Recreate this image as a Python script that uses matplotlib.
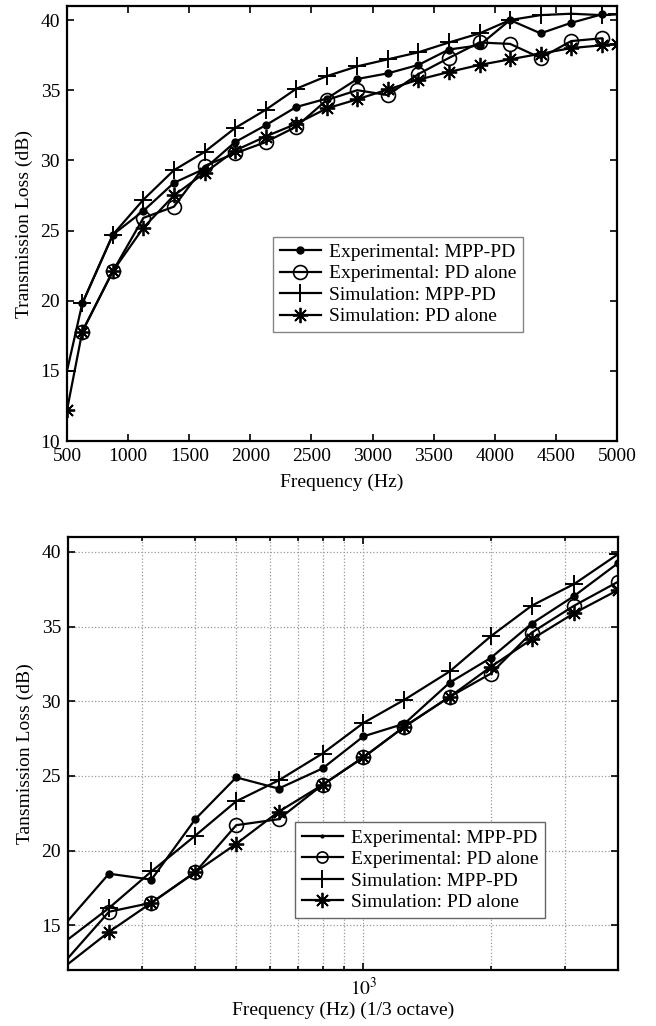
import matplotlib
matplotlib.use("Agg")
import matplotlib.pyplot as plt
from matplotlib.ticker import FixedLocator, NullFormatter
from matplotlib.lines import Line2D

plt.rcParams['font.family'] = ['Liberation Serif', 'DejaVu Serif']
plt.rcParams['mathtext.fontset'] = 'stix'

# ---------------- top chart data (linear frequency) ----------------
freq_exp = [625, 875, 1125, 1375, 1625, 1875, 2125, 2375, 2625, 2875,
            3125, 3375, 3625, 3875, 4125, 4375, 4625, 4875]
exp_mpp = [19.8, 24.7, 26.4, 28.4, 29.4, 31.3, 32.5, 33.8, 34.4, 35.8,
           36.2, 36.8, 37.9, 38.2, 40.0, 39.05, 39.8, 40.4]
exp_pd = [17.8, 22.1, 25.9, 26.7, 29.6, 30.5, 31.3, 32.4, 34.3, 35.0,
          34.65, 36.15, 37.3, 38.4, 38.3, 37.3, 38.5, 38.7]
freq_sim = [500, 625, 875, 1125, 1375, 1625, 1875, 2125, 2375, 2625, 2875,
            3125, 3375, 3625, 3875, 4125, 4375, 4625, 4875, 5000]
sim_mpp = [15.0, 19.8, 24.7, 27.2, 29.3, 30.6, 32.3, 33.6, 35.1, 36.0, 36.7,
           37.2, 37.7, 38.4, 39.05, 40.0, 40.35, 40.45, 40.35, 40.4]
sim_pd = [12.2, 17.8, 22.1, 25.2, 27.5, 29.1, 30.7, 31.7, 32.6, 33.7, 34.35,
          35.05, 35.75, 36.3, 36.8, 37.2, 37.6, 38.0, 38.2, 38.3]

# ---------------- bottom chart data (1/3 octave) ----------------
freq_oct = [200, 250, 315, 400, 500, 630, 800, 1000, 1250, 1600, 2000, 2500, 3150, 4000]
exp_mpp_b = [15.3, 18.45, 18.05, 22.1, 24.9, 24.15, 25.5, 27.65, 28.5, 31.25, 32.9, 35.2, 37.05, 39.25]
exp_pd_b = [12.8, 15.9, 16.5, 18.55, 21.7, 22.1, 24.4, 26.25, 28.3, 30.3, 31.85, 34.6, 36.4, 38.0]
sim_mpp_b = [14.05, 16.15, 18.6, 21.0, 23.3, 24.7, 26.5, 28.55, 30.1, 32.0, 34.35, 36.4, 37.85, 39.85]
sim_pd_b = [12.4, 14.55, 16.5, 18.55, 20.45, 22.6, 24.4, 26.25, 28.3, 30.3, 32.3, 34.15, 35.9, 37.45]

labels = ["Experimental: MPP-PD", "Experimental: PD alone",
          "Simulation: MPP-PD", "Simulation: PD alone"]

FS = 14
LW = 1.6
ASTER = (8, 2, 0)
styles = [
    dict(marker='.', markersize=10),
    dict(marker='o', markersize=10, markerfacecolor='none', markeredgewidth=1.2),
    dict(marker='+', markersize=13, markeredgewidth=1.4),
    dict(marker=ASTER, markersize=11, markeredgewidth=1.3),
]

fig = plt.figure(figsize=(6.56, 10.26), dpi=100)

# ---------------- top axes ----------------
ax1 = fig.add_axes([67/656, 1 - 441/1026, 550/656, 435/1026])
series_top = [(freq_exp, exp_mpp), (freq_exp, exp_pd), (freq_sim, sim_mpp), (freq_sim, sim_pd)]
for (fx, fy), st, lab in zip(series_top, styles, labels):
    ax1.plot(fx, fy, color='black', linewidth=LW, label=lab, **st)
ax1.set_xlim(500, 5000)
ax1.set_ylim(10, 41)
ax1.set_xticks([500, 1000, 1500, 2000, 2500, 3000, 3500, 4000, 4500, 5000])
ax1.set_yticks([10, 15, 20, 25, 30, 35, 40])
ax1.set_xlabel("Frequency (Hz)", fontsize=FS, labelpad=6)
ax1.set_ylabel("Transmission Loss (dB)", fontsize=FS, labelpad=5)
leg1 = ax1.legend(loc='lower left', bbox_to_anchor=(0.375, 0.25), fontsize=FS,
                  frameon=True, fancybox=False, edgecolor='#666666', handlelength=2.1,
                  handletextpad=0.4, borderpad=0.35, labelspacing=0.2, borderaxespad=0)
leg1.get_frame().set_linewidth(1.0)

# ---------------- bottom axes ----------------
ax2 = fig.add_axes([68/656, 1 - 970/1026, 550/656, 433/1026])
series_bot = [(freq_oct, exp_mpp_b), (freq_oct, exp_pd_b), (freq_oct, sim_mpp_b), (freq_oct, sim_pd_b)]
leg_styles = [dict(marker='.', markersize=4),
              dict(marker='o', markersize=8, markerfacecolor='none', markeredgewidth=1.2),
              dict(marker='+', markersize=13, markeredgewidth=1.4),
              dict(marker=ASTER, markersize=11, markeredgewidth=1.3)]
for (fx, fy), st, lab in zip(series_bot, styles, labels):
    ax2.plot(fx, fy, color='black', linewidth=LW, markevery=slice(1, None), **st)
handles = [Line2D([], [], color='black', linewidth=LW, **st) for st in leg_styles]
ax2.set_xscale('log')
ax2.set_xlim(200, 4000)
ax2.set_ylim(12, 41)
ax2.xaxis.set_major_locator(FixedLocator([1000]))
ax2.xaxis.set_minor_locator(FixedLocator([300, 400, 500, 600, 700, 800, 900, 2000, 3000]))
ax2.xaxis.set_minor_formatter(NullFormatter())
ax2.set_xticklabels([r'$10^3$'])
ax2.set_yticks([15, 20, 25, 30, 35, 40])
ax2.grid(True, which='both', axis='x', linestyle=':', color='#999999', linewidth=0.9)
ax2.grid(True, which='major', axis='y', linestyle=':', color='#999999', linewidth=0.9)
ax2.set_axisbelow(True)
ax2.set_xlabel("Frequency (Hz) (1/3 octave)", fontsize=FS, labelpad=2)
ax2.set_ylabel("Tansmission Loss (dB)", fontsize=FS, labelpad=5)
leg2 = ax2.legend(handles, labels, loc='lower left', bbox_to_anchor=(0.413, 0.12), fontsize=FS,
                  frameon=True, fancybox=False, edgecolor='#666666', handlelength=2.1,
                  handletextpad=0.4, borderpad=0.35, labelspacing=0.2, borderaxespad=0,
                  framealpha=1)
leg2.get_frame().set_linewidth(1.0)

for ax in (ax1, ax2):
    for sp in ax.spines.values():
        sp.set_linewidth(1.6)
    ax.tick_params(which='both', direction='in', top=True, right=True, labelsize=FS,
                   length=5, width=1.2, pad=5)
    ax.tick_params(which='minor', length=3)

fig.savefig("out.png", dpi=100)
